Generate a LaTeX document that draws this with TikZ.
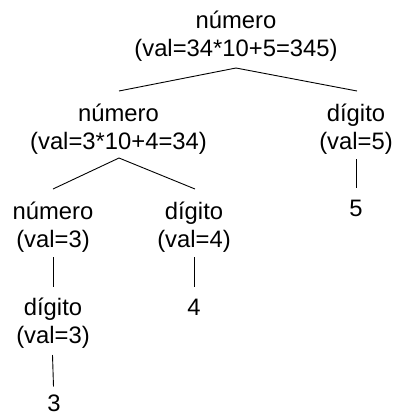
\documentclass[tikz,border=0pt]{standalone}
\usepackage{fontspec}
\setmainfont{Liberation Sans}
\begin{document}
\begin{tikzpicture}[x=1pt,y=1pt,
  tnode/.style={align=center, inner sep=0pt, anchor=base,
    font=\fontsize{23.8}{28}\selectfont},
  branch/.style={line width=0.9pt, black}]
\useasboundingbox (0,0) rectangle (395,-415);
% tree nodes, placed at the baseline of their last line
\node[tnode] (root) at (236,-56)   {número\\(val=34*10+5=345)};
\node[tnode] (n1)   at (118.5,-149) {número\\(val=3*10+4=34)};
\node[tnode] (d1)   at (356,-149)  {dígito\\(val=5)};
\node[tnode] (n2)   at (53,-247)   {número\\(val=3)};
\node[tnode] (d2)   at (194,-247)  {dígito\\(val=4)};
\node[tnode] (five) at (356,-216)  {5};
\node[tnode] (d3)   at (53,-343)   {dígito\\(val=3)};
\node[tnode] (four) at (194,-315)  {4};
\node[tnode] (three) at (54,-411.5) {3};
% branches
\draw[branch] ([yshift=-12pt]root.base) -- ([xshift=0.5pt,yshift=58pt]n1.base);
\draw[branch] ([yshift=-12pt]root.base) -- ([xshift=1pt,yshift=58pt]d1.base);
\draw[branch] ([xshift=0.5pt,yshift=-9pt]n1.base) -- ([yshift=58pt]n2.base);
\draw[branch] ([xshift=0.5pt,yshift=-9pt]n1.base) -- ([xshift=1pt,yshift=58pt]d2.base);
\draw[branch] ([yshift=-10pt]d1.base) -- ([yshift=28pt]five.base);
\draw[branch] ([yshift=-10pt]n2.base) -- ([yshift=56pt]d3.base);
\draw[branch] ([yshift=-10pt]d2.base) -- ([yshift=28pt]four.base);
\draw[branch] ([xshift=-0.5pt,yshift=-12pt]d3.base) -- ([xshift=-0.5pt,yshift=25pt]three.base);
\end{tikzpicture}
\end{document}
